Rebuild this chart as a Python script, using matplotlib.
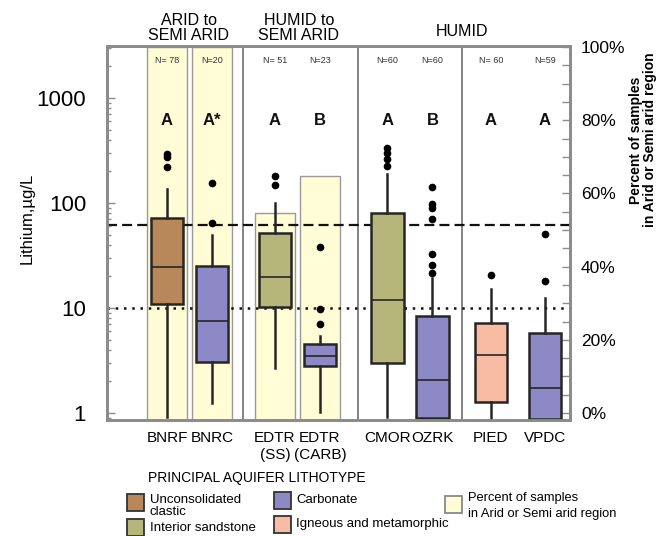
import matplotlib
matplotlib.use("Agg")
import matplotlib.pyplot as plt
import numpy as np
from matplotlib.patches import Rectangle
from matplotlib.ticker import LogLocator, NullFormatter, MultipleLocator, FixedLocator
import matplotlib.transforms as mtransforms

plt.rcParams['font.family'] = ['Liberation Sans', 'DejaVu Sans']

# ---------------- data ----------------
categories = ["BNRF", "BNRC", "EDTR\n(SS)", "EDTR\n(CARB)", "CMOR", "OZRK", "PIED", "VPDC"]
n_labels = ["N= 78", "N=20", "N= 51", "N=23", "N=60", "N=60", "N= 60", "N=59"]
letters = ["A", "A*", "A", "B", "A", "B", "A", "A"]
lithotype = ["clastic", "carbonate", "sandstone", "carbonate", "sandstone", "carbonate", "igneous", "carbonate"]

q1 = [10.9, 3.08, 10.3, 2.81, 3.01, 0.90, 1.28, 0.88]
median = [24.7, 7.6, 19.9, 3.49, 11.8, 2.06, 3.54, 1.72]
q3 = [71.5, 25.3, 52.0, 4.51, 80.9, 8.4, 7.14, 5.82]
whisker_low = [0.92, 1.25, 2.67, 1.03, 0.92, 0.90, 0.90, 0.88]
whisker_high = [135, 49.5, 99, 5.41, 187, 19.2, 15.2, 12.5]
outliers = [
    [291, 276, 219],
    [154, 64],
    [182, 147],
    [37.8, 9.7, 7.0],
    [331, 297, 262, 225],
    [143, 97, 89, 70, 33, 25.7, 21.7],
    [20.6],
    [50.7, 18.2],
]
pct_arid = [100, 100, 54.6, 64.8, 0, 0, 0, 0]

dashed_level = 62
dotted_level = 10

group_labels = ["ARID to\nSEMI ARID", "HUMID to\nSEMI ARID", "HUMID"]
legend_labels = ["Unconsolidated\nclastic", "Interior sandstone", "Carbonate",
                 "Igneous and metamorphic", "Percent of samples\nin Arid or Semi arid region"]

colors = {"clastic": "#B8875A", "sandstone": "#B6B67B", "carbonate": "#8D89C6",
          "igneous": "#F8BBA3"}
yellow = "#FFFCD6"

# ---------------- layout ----------------
W, H = 662, 536
fig = plt.figure(figsize=(W / 100, H / 100), dpi=100)


def fx(x):
    return x / W


def fy(y):
    return 1 - y / H


ax_l, ax_r, ax_t, ax_b = 107, 570, 46, 420
ax = fig.add_axes([fx(ax_l), fy(ax_b), fx(ax_r - ax_l), (ax_b - ax_t) / H])
ax2 = ax.twinx()
ax.set_zorder(2)
ax.patch.set_visible(False)
ax2.set_zorder(1)

positions = np.array([1, 2, 3.4, 4.4, 5.9, 6.9, 8.2, 9.4])
separators = [2.7, 5.25, 7.55]
ax.set_xlim(-0.333, 9.956)

# right axis: yellow percent bars
ylow, yhigh = -1.9, 100.3
ax2.set_ylim(ylow, yhigh)
pct = np.array(pct_arid, dtype=float)
mask = pct > 0
ax2.bar(positions[mask], pct[mask] - ylow, bottom=ylow, width=0.88,
        color=yellow, edgecolor="#9a9a9a", linewidth=1.0)
ax2.yaxis.set_major_locator(FixedLocator([0, 20, 40, 60, 80, 100]))
ax2.set_yticklabels([f"{v}%" for v in [0, 20, 40, 60, 80, 100]])
ax2.yaxis.set_minor_locator(MultipleLocator(5))
ax2.tick_params(axis="y", which="both", direction="in", length=6, width=1,
                color="#8c8c8c", labelsize=12.5, pad=8)

# left axis: log boxplots
ax.set_yscale("log")
ax.set_ylim(0.858, 3126)

stats = []
for i in range(len(categories)):
    stats.append(dict(med=median[i], q1=q1[i], q3=q3[i], whislo=whisker_low[i],
                      whishi=whisker_high[i], fliers=outliers[i]))
edge = "#262626"
bp = ax.bxp(stats, positions=positions, widths=0.73, patch_artist=True, showcaps=False,
            boxprops=dict(edgecolor=edge, linewidth=1.8),
            medianprops=dict(color=edge, linewidth=1.2),
            whiskerprops=dict(color=edge, linewidth=1.8),
            flierprops=dict(marker="o", markerfacecolor="black", markeredgecolor="black",
                            markersize=4.5))
for patch, lt in zip(bp["boxes"], lithotype):
    patch.set_facecolor(colors[lt])

for s in separators:
    ax.axvline(s, color="#7a7a7a", linewidth=1.3, zorder=1)

ax.axhline(dashed_level, color="#111111", linewidth=1.6, linestyle=(0, (4.5, 2.3)), zorder=1.5)
ax.axhline(dotted_level, color="#111111", linewidth=1.8, linestyle=(0, (1, 2.3)), zorder=1.5)

ax.yaxis.set_major_locator(FixedLocator([1, 10, 100, 1000]))
ax.set_yticklabels(["1", "10", "100", "1000"])
ax.yaxis.set_minor_locator(LogLocator(base=10, subs=np.arange(2, 10)))
ax.yaxis.set_minor_formatter(NullFormatter())
ax.tick_params(axis="y", which="major", direction="in", length=6, width=1,
               color="#8c8c8c", labelsize=16, pad=15)
ax.tick_params(axis="y", which="minor", direction="in", length=3, width=1, color="#8c8c8c")

ax.set_xticks(positions)
ax.set_xticklabels(categories, fontsize=11, linespacing=1.3)
ax.tick_params(axis="x", length=0, pad=8)
ax2.tick_params(axis="x", length=0)

for a in (ax, ax2):
    for sp in a.spines.values():
        sp.set_color("#8c8c8c")
        sp.set_linewidth(2)

# annotations inside axes
trans = mtransforms.blended_transform_factory(ax.transData, ax.transAxes)
for p, n, l in zip(positions, n_labels, letters):
    ax.text(p, 0.96, n, transform=trans, ha="center", va="center", fontsize=6.5, color="#333333")
    ax.text(p, 0.80, l, transform=trans, ha="center", va="center", fontsize=12,
            fontweight="bold", color="#111111")

# group labels on top
fig.text(fx(189), fy(28), group_labels[0], ha="center", va="center", fontsize=11.5, linespacing=1.0)
fig.text(fx(299), fy(28), group_labels[1], ha="center", va="center", fontsize=11.5, linespacing=1.0)
fig.text(fx(462), fy(32), group_labels[2], ha="center", va="center", fontsize=11.5)

# axis labels
fig.text(fx(27), fy(218), "Lithium,µg/L", rotation=90, ha="center", va="center", fontsize=12)
fig.text(fx(643), fy(140), "Percent of samples\nin Arid or Semi arid region", rotation=90,
         ha="center", va="center", fontsize=10, fontweight="bold", linespacing=1.05)

fig.text(fx(148), fy(478), "PRINCIPAL AQUIFER LITHOTYPE", ha="left", va="center", fontsize=10)

# legend
sq = 17
legend_items = [
    (127, 494, colors["clastic"], 150, 506, legend_labels[0]),
    (127, 519, colors["sandstone"], 150, 528, legend_labels[1]),
    (274, 492, colors["carbonate"], 296, 500, legend_labels[2]),
    (274, 516, colors["igneous"], 296, 524, legend_labels[3]),
]
for (x0, y0, c, tx, ty, lab) in legend_items:
    fig.patches.append(Rectangle((fx(x0), fy(y0 + sq)), sq / W, sq / H, transform=fig.transFigure,
                                 facecolor=c, edgecolor="#333333", linewidth=1.3))
    fig.text(fx(tx), fy(ty), lab, ha="left", va="center", fontsize=9.5, linespacing=1.0)
fig.patches.append(Rectangle((fx(445), fy(513)), sq / W, sq / H, transform=fig.transFigure,
                             facecolor=yellow, edgecolor="#888888", linewidth=1.3))
fig.text(fx(468), fy(506), legend_labels[4], ha="left", va="center", fontsize=9.3, linespacing=1.45)

fig.savefig("out.png", dpi=100)
